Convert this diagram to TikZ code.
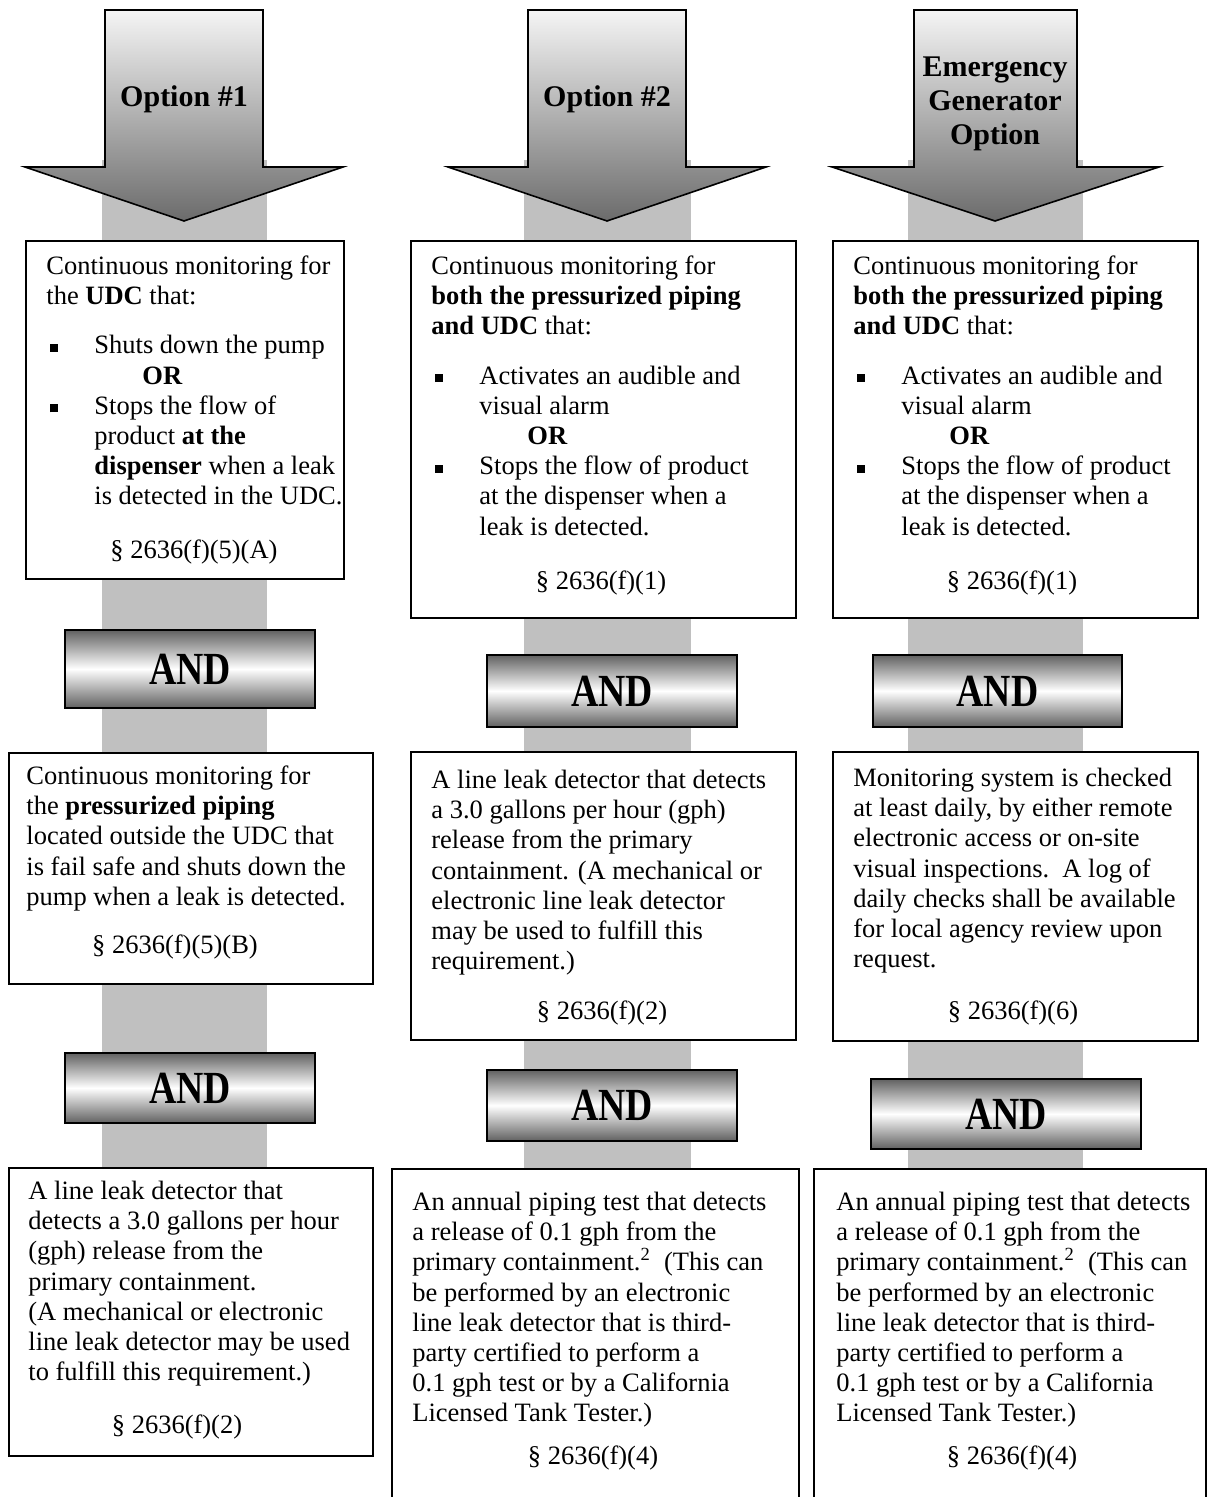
\documentclass[tikz,border=0pt]{standalone}
\usepackage{fontspec}
\usepackage{graphicx}
\setmainfont{Liberation Serif}
\definecolor{barcol}{HTML}{C0C0C0}
\newcommand\sqbul{\makebox[24pt][l]{\hspace{2pt}\rule[1pt]{4pt}{4pt}}}
\tikzset{
  box/.style={draw, line width=0.9pt, fill=white, inner sep=0pt, anchor=north west},
  andbar/.style={draw, line width=0.9pt, inner sep=0pt, anchor=north west,
    top color=black!62, bottom color=black!62, middle color=white,
    font=\fontsize{23}{24}\selectfont\bfseries},
  bodytxt/.style={anchor=north west, inner sep=0pt, align=left,
    font=\fontsize{13.25}{15.1}\selectfont},
  sectxt/.style={anchor=base, inner sep=0pt, font=\fontsize{13.25}{15.1}\selectfont},
  optxt/.style={align=center, inner sep=0pt, font=\fontsize{15}{17}\selectfont\bfseries},
  bigarrow/.style={draw, line width=0.8pt, top color=black!4, bottom color=black!58}
}
\begin{document}
\begin{tikzpicture}[x=0.5pt,y=-0.5pt]
% 三种方案示意
\useasboundingbox (0,0) rectangle (1206,1497);
\fill[barcol] (102,160) rectangle (267,1167);
\fill[barcol] (524,160) rectangle (691,1168);
\fill[barcol] (908,160) rectangle (1083,1168);
\path[bigarrow] (105,10) -- (263,10) -- (263,167) -- (343,167) -- (184,221) -- (25,167) -- (105,167) -- cycle;
\path[bigarrow] (528,10) -- (686,10) -- (686,167) -- (766,167) -- (607,221) -- (448,167) -- (528,167) -- cycle;
\path[bigarrow] (914,10) -- (1077,10) -- (1077,167) -- (1159,167) -- (995,221) -- (832,167) -- (914,167) -- cycle;
\node[optxt] (opt1) at (184,99) {Option \#1};
\node[optxt] (opt2) at (607,99) {Option \#2};
\node[optxt] (opt3) at (995,104) {Emergency\\Generator\\Option};
% column 1
\node[box, minimum width=159pt, minimum height=169pt] (box11) at (25,240) {};
\node[bodytxt] (txt11) at (46,253) {\strut Continuous monitoring for\\
the \textbf{UDC} that:\\[9.5pt]
\sqbul Shuts down the pump\\
\hspace*{48pt}\textbf{OR}\\
\sqbul Stops the flow of\\
\hspace*{24pt}product \textbf{at the}\\
\hspace*{24pt}\textbf{dispenser} when a leak\\
\hspace*{24pt}is detected in the UDC.};
\node[sectxt] (sec11) at (194,558) {§ 2636(f)(5)(A)};
\node[andbar, minimum width=125pt, minimum height=39pt] (and11) at (64,629) {\scalebox{0.82}[1]{AND}};
\node[box, minimum width=182pt, minimum height=115.5pt] (box12) at (8,752) {};
\node[bodytxt] (txt12) at (26,763) {\strut Continuous monitoring for\\
the \textbf{pressurized piping}\\
located outside the UDC that\\
is fail safe and shuts down the\\
pump when a leak is detected.};
\node[sectxt] (sec12) at (175,953) {§ 2636(f)(5)(B)};
\node[andbar, minimum width=125pt, minimum height=35pt] (and12) at (64,1052) {\scalebox{0.82}[1]{AND}};
\node[box, minimum width=182pt, minimum height=144pt] (box13) at (8,1167) {};
\node[bodytxt] (txt13) at (28,1178) {\strut A line leak detector that\\
detects a 3.0 gallons per hour\\
(gph) release from the\\
primary containment.\\
(A mechanical or electronic\\
line leak detector may be used\\
to fulfill this requirement.)};
\node[sectxt] (sec13) at (177,1433) {§ 2636(f)(2)};
% column 2
\node[box, minimum width=192.5pt, minimum height=188.5pt] (box21) at (410,240) {};
\node[bodytxt] (txt21) at (431,253) {\strut Continuous monitoring for\\
\textbf{both the pressurized piping}\\
\textbf{and UDC} that:\\[9.5pt]
\sqbul Activates an audible and\\
\hspace*{24pt}visual alarm\\
\hspace*{48pt}\textbf{OR}\\
\sqbul Stops the flow of product\\
\hspace*{24pt}at the dispenser when a\\
\hspace*{24pt}leak is detected.};
\node[sectxt] (sec21) at (601,589) {§ 2636(f)(1)};
\node[andbar, minimum width=125pt, minimum height=36pt] (and21) at (486,654) {\scalebox{0.82}[1]{AND}};
\node[box, minimum width=192.5pt, minimum height=144pt] (box22) at (410,751) {};
\node[bodytxt] (txt22) at (431,767) {\strut A line leak detector that detects\\
a 3.0 gallons per hour (gph)\\
release from the primary\\
containment. (A mechanical or\\
electronic line leak detector\\
may be used to fulfill this\\
requirement.)};
\node[sectxt] (sec22) at (602,1019) {§ 2636(f)(2)};
\node[andbar, minimum width=125pt, minimum height=35.5pt] (and22) at (486,1069) {\scalebox{0.82}[1]{AND}};
\node[box, minimum width=203.5pt, minimum height=200pt] (box23) at (391,1168) {};
\node[bodytxt] (txt23) at (412,1189) {\strut An annual piping test that detects\\
a release of 0.1 gph from the\\
primary containment.\textsuperscript{2}\ \ (This can\\
be performed by an electronic\\
line leak detector that is third-\\
party certified to perform a\\
0.1 gph test or by a California\\
Licensed Tank Tester.)};
\node[sectxt] (sec23) at (593,1464) {§ 2636(f)(4)};
% column 3
\node[box, minimum width=182.5pt, minimum height=188.5pt] (box31) at (832,240) {};
\node[bodytxt] (txt31) at (853,253) {\strut Continuous monitoring for\\
\textbf{both the pressurized piping}\\
\textbf{and UDC} that:\\[9.5pt]
\sqbul Activates an audible and\\
\hspace*{24pt}visual alarm\\
\hspace*{48pt}\textbf{OR}\\
\sqbul Stops the flow of product\\
\hspace*{24pt}at the dispenser when a\\
\hspace*{24pt}leak is detected.};
\node[sectxt] (sec31) at (1012,589) {§ 2636(f)(1)};
\node[andbar, minimum width=124.5pt, minimum height=36pt] (and31) at (872,654) {\scalebox{0.82}[1]{AND}};
\node[box, minimum width=182.5pt, minimum height=144.5pt] (box32) at (832,751) {};
\node[bodytxt] (txt32) at (853,765) {\strut Monitoring system is checked\\
at least daily, by either remote\\
electronic access or on-site\\
visual inspections.\ \ A log of\\
daily checks shall be available\\
for local agency review upon\\
request.};
\node[sectxt] (sec32) at (1013,1019) {§ 2636(f)(6)};
\node[andbar, minimum width=135pt, minimum height=35pt] (and32) at (870,1078) {\scalebox{0.82}[1]{AND}};
\node[box, minimum width=196pt, minimum height=200pt] (box33) at (813,1168) {};
\node[bodytxt] (txt33) at (836,1189) {\strut An annual piping test that detects\\
a release of 0.1 gph from the\\
primary containment.\textsuperscript{2}\ \ (This can\\
be performed by an electronic\\
line leak detector that is third-\\
party certified to perform a\\
0.1 gph test or by a California\\
Licensed Tank Tester.)};
\node[sectxt] (sec33) at (1012,1464) {§ 2636(f)(4)};
\end{tikzpicture}
\end{document}
